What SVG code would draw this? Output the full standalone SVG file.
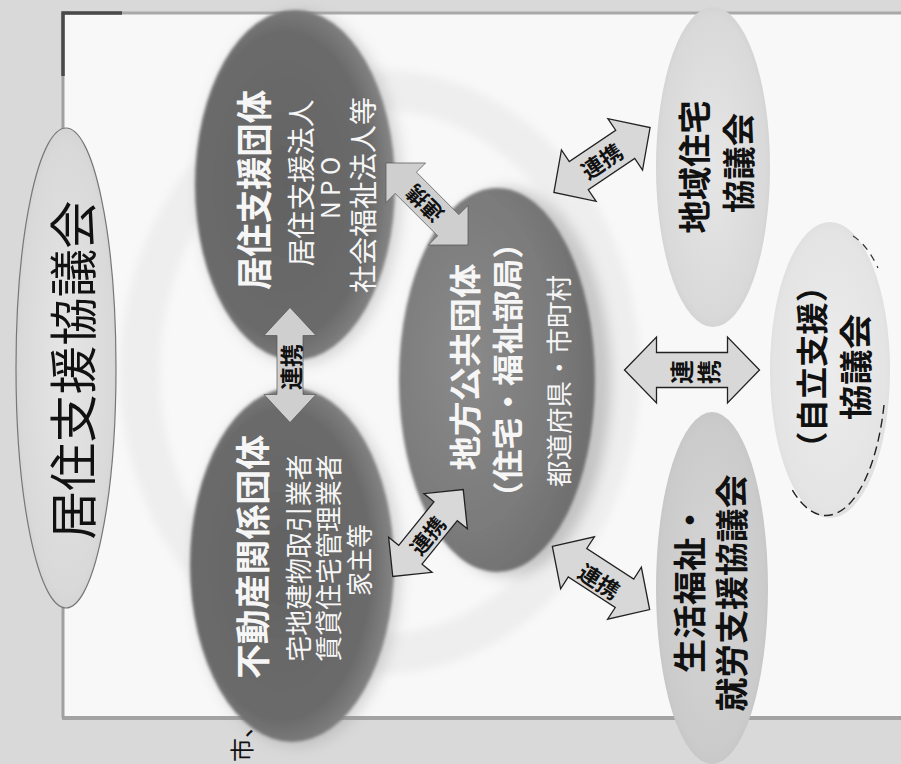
<svg xmlns="http://www.w3.org/2000/svg" width="901" height="764" viewBox="0 0 901 764">
<style>
.t{font-family:"Noto Sans CJK JP","Noto Sans CJK SC",sans-serif;text-anchor:middle;dominant-baseline:central}
.w{fill:#f6f6f6}
.k{fill:#111}
.b{font-weight:700}
.arr{fill:#d8d8d8;stroke:#222;stroke-width:1.3;stroke-linejoin:miter}
.arrs{fill:#cfcfcf;stroke:#555;stroke-width:0.7}
</style>
<defs>
<filter id="blur6" x="-30%" y="-30%" width="160%" height="160%"><feGaussianBlur stdDeviation="7"/></filter>
<filter id="blur3" x="-20%" y="-20%" width="140%" height="140%"><feGaussianBlur stdDeviation="4"/></filter>
<filter id="soft" x="-10%" y="-10%" width="120%" height="120%"><feGaussianBlur stdDeviation="1.6"/></filter>
<radialGradient id="gDark" cx="45%" cy="50%" r="55%"><stop offset="0" stop-color="#626262"/><stop offset="0.8" stop-color="#6b6b6b"/><stop offset="1" stop-color="#858585"/></radialGradient>
<radialGradient id="gMid" cx="35%" cy="45%" r="65%"><stop offset="0" stop-color="#8a8a8a"/><stop offset="0.7" stop-color="#7a7a7a"/><stop offset="1" stop-color="#6e6e6e"/></radialGradient>
<radialGradient id="gLight" cx="50%" cy="50%" r="55%"><stop offset="0" stop-color="#e6e6e6"/><stop offset="0.85" stop-color="#d9d9d9"/><stop offset="1" stop-color="#cdcdcd"/></radialGradient>
<radialGradient id="gLight2" cx="50%" cy="50%" r="55%"><stop offset="0" stop-color="#d6d6d6"/><stop offset="0.85" stop-color="#cbcbcb"/><stop offset="1" stop-color="#c2c2c2"/></radialGradient>
<radialGradient id="gLight3" cx="50%" cy="50%" r="55%"><stop offset="0" stop-color="#ececec"/><stop offset="0.85" stop-color="#e4e4e4"/><stop offset="1" stop-color="#dadada"/></radialGradient>
</defs>

<!-- page background & panel -->
<rect x="0" y="0" width="901" height="764" fill="#d9d9d9"/>
<rect x="62" y="13" width="839" height="705" fill="#f8f8f8"/>
<line x1="62" y1="13" x2="901" y2="13" stroke="#a9a9a9" stroke-width="3"/>
<line x1="62" y1="718" x2="901" y2="718" stroke="#a3a3a3" stroke-width="4"/>
<line x1="63" y1="13" x2="63" y2="718" stroke="#a0a0a0" stroke-width="3"/>
<polyline points="122,13 63,13 63,76" fill="none" stroke="#4a4a4a" stroke-width="3.5"/>

<!-- ring -->
<ellipse cx="380" cy="372" rx="240" ry="282" fill="none" stroke="#eeeeee" stroke-width="40" filter="url(#blur3)"/>

<!-- nodes -->
<g id="kyojushien-kyogikai">
<ellipse cx="66" cy="368" rx="50" ry="240" fill="url(#gLight)" stroke="#777" stroke-width="1.2"/>
<text class="t k" font-size="48" transform="translate(70,370) rotate(-90)" textLength="339" lengthAdjust="spacingAndGlyphs">居住支援協議会</text>
</g>

<g id="kyojushien-dantai">
<ellipse cx="300" cy="188" rx="102" ry="177" fill="#8a8a8a" opacity="0.3" filter="url(#blur6)"/>
<ellipse cx="295" cy="185" rx="100" ry="175" fill="url(#gDark)" filter="url(#soft)"/>
<text class="t w b" font-size="36" transform="translate(252,190) rotate(-90)" textLength="200" lengthAdjust="spacingAndGlyphs">居住支援団体</text>
<text class="t w" font-size="28" transform="translate(300,183) rotate(-90)" textLength="167" lengthAdjust="spacingAndGlyphs">居住支援法人</text>
<text class="t w" font-size="26" transform="translate(328,188) rotate(-90)" textLength="62" lengthAdjust="spacingAndGlyphs">N P O</text>
<text class="t w" font-size="28" transform="translate(362,195) rotate(-90)" textLength="196" lengthAdjust="spacingAndGlyphs">社会福祉法人等</text>
</g>

<g id="fudosan-dantai">
<ellipse cx="297" cy="568" rx="104" ry="179" fill="#8a8a8a" opacity="0.3" filter="url(#blur6)"/>
<ellipse cx="292" cy="565" rx="102" ry="177" fill="url(#gDark)" filter="url(#soft)"/>
<text class="t w b" font-size="35" transform="translate(250,557) rotate(-90)" textLength="244" lengthAdjust="spacingAndGlyphs">不動産関係団体</text>
<text class="t w" font-size="27" transform="translate(297,558) rotate(-90)" textLength="207" lengthAdjust="spacingAndGlyphs">宅地建物取引業者</text>
<text class="t w" font-size="27" transform="translate(327,558) rotate(-90)" textLength="207" lengthAdjust="spacingAndGlyphs">賃貸住宅管理業者</text>
<text class="t w" font-size="27" transform="translate(358,560) rotate(-90)" textLength="72" lengthAdjust="spacingAndGlyphs">家主等</text>
</g>

<g id="chiho-kokyo-dantai">
<ellipse cx="508" cy="382" rx="102" ry="194" fill="#707070" opacity="0.35" filter="url(#blur6)"/>
<ellipse cx="497" cy="380" rx="98" ry="192" fill="url(#gMid)" filter="url(#soft)"/>
<text class="t w b" font-size="32" transform="translate(463,367) rotate(-90)" textLength="207" lengthAdjust="spacingAndGlyphs">地方公共団体</text>
<text class="t w b" font-size="31" transform="translate(505,370) rotate(-90)" textLength="286" lengthAdjust="spacingAndGlyphs">（住宅・福祉部局）</text>
<text class="t w" font-size="26" transform="translate(557,381) rotate(-90)" textLength="212" lengthAdjust="spacingAndGlyphs">都道府県・市町村</text>
</g>

<g id="chiiki-jutaku-kyogikai">
<ellipse cx="713" cy="167" rx="57" ry="160" fill="url(#gLight)"/>
<text class="t k b" font-size="33" transform="translate(693,167) rotate(-90)" textLength="133" lengthAdjust="spacingAndGlyphs">地域住宅</text>
<text class="t k b" font-size="33" transform="translate(737,163) rotate(-90)" textLength="100" lengthAdjust="spacingAndGlyphs">協議会</text>
</g>

<g id="jiritsu-shien-kyogikai">
<ellipse cx="830" cy="370" rx="60" ry="148" fill="url(#gLight3)"/>
<path d="M884,405 A60,148 0 0 1 790,486" fill="none" stroke="#222" stroke-width="1.4" stroke-dasharray="9,5"/>
<path d="M853,236 A60,148 0 0 1 878,268" fill="none" stroke="#333" stroke-width="1.2" stroke-dasharray="7,6"/>
<text class="t k b" font-size="32" transform="translate(810,367) rotate(-90)" textLength="194" lengthAdjust="spacingAndGlyphs">（自立支援）</text>
<text class="t k b" font-size="33" transform="translate(854,367) rotate(-90)" textLength="106" lengthAdjust="spacingAndGlyphs">協議会</text>
</g>

<g id="seikatsu-fukushi-kyogikai">
<ellipse cx="712" cy="588" rx="56" ry="176" fill="url(#gLight2)"/>
<text class="t k b" font-size="33" transform="translate(688,588) rotate(-90)" textLength="170" lengthAdjust="spacingAndGlyphs">生活福祉・</text>
<text class="t k b" font-size="33" transform="translate(730,593) rotate(-90)" textLength="237" lengthAdjust="spacingAndGlyphs">就労支援協議会</text>
</g>

<!-- connectors -->
<g id="connectors">
<g transform="translate(290,365) rotate(90)">
<path class="arrs" d="M-57.5,0 L-29.5,-26 L-29.5,-13 L29.5,-13 L29.5,-26 L57.5,0 L29.5,26 L29.5,13 L-29.5,13 L-29.5,26 Z"/>
</g>
<text class="t k b" font-size="23" transform="translate(290,367) rotate(-90)">連携</text>

<g transform="translate(427,204) rotate(45)">
<path class="arrs" d="M-58,0 L-30,-28 L-30,-15 L30,-15 L30,-28 L58,0 L30,28 L30,15 L-30,15 L-30,28 Z"/>
</g>
<text class="t k b" font-size="21" transform="translate(424,204) rotate(-135)">連携</text>

<g transform="translate(428,533) rotate(-51)">
<path class="arr" d="M-56,0 L-28,-28 L-28,-15 L28,-15 L28,-28 L56,0 L28,28 L28,15 L-28,15 L-28,28 Z"/>
</g>
<text class="t k b" font-size="21" transform="translate(427,535) rotate(-51)">連携</text>

<g transform="translate(602,160) rotate(-34)">
<path class="arr" d="M-58,0 L-28,-31 L-28,-17 L28,-17 L28,-31 L58,0 L28,31 L28,17 L-28,17 L-28,31 Z"/>
</g>
<text class="t k b" font-size="22" transform="translate(601,160) rotate(-34)">連携</text>

<g transform="translate(692,370)">
<path class="arr" d="M-67.5,0 L-35.5,-33 L-35.5,-17.5 L35.5,-17.5 L35.5,-33 L67.5,0 L35.5,33 L35.5,17.5 L-35.5,17.5 L-35.5,33 Z"/>
</g>
<text class="t k b" font-size="24" transform="translate(680,372) rotate(-90)">連</text>
<text class="t k b" font-size="24" transform="translate(707,372) rotate(-90)">携</text>

<g transform="translate(601,578) rotate(33)">
<path class="arr" d="M-58,0 L-28,-31 L-28,-17 L28,-17 L28,-31 L58,0 L28,31 L28,17 L-28,17 L-28,31 Z"/>
</g>
<text class="t k b" font-size="22" transform="translate(600,580) rotate(33)">連携</text>
</g>

<!-- page fragment below panel -->
<text class="t k" font-size="24" transform="translate(240,738) rotate(-90)">市、</text>
</svg>
